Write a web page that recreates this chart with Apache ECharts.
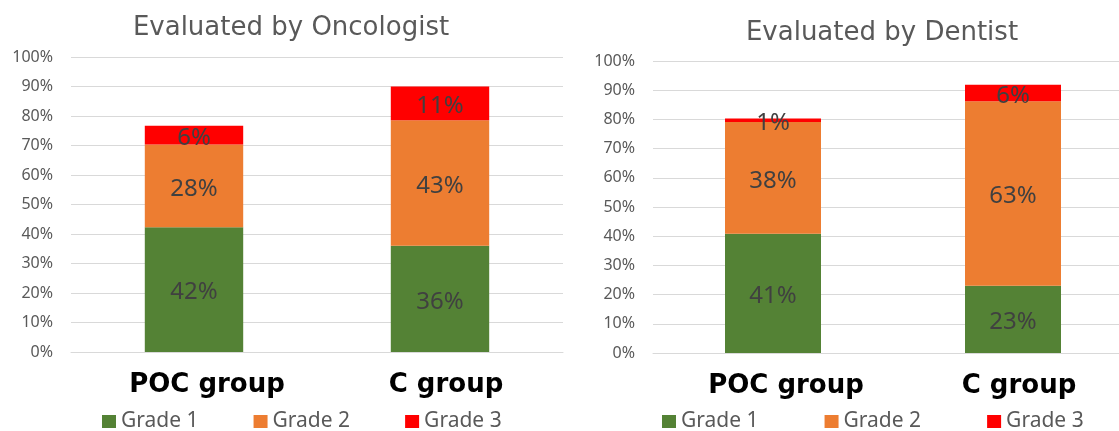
<!DOCTYPE html>
<html>
<head>
<meta charset="utf-8">
<script src="https://cdn.jsdelivr.net/npm/echarts@6/dist/echarts.min.js"></script>
<style>
html,body{margin:0;padding:0;background:#fff;}
#c{width:1119px;height:431px;}
</style>
</head>
<body>
<div id="c"></div>
<script>
var categories = ['POC group', 'C group'];
var gradeNames = ['Grade 1', 'Grade 2', 'Grade 3'];
var titles = ['Evaluated by Oncologist', 'Evaluated by Dentist'];

// Oncologist (left)
var oncoGrade1 = [42.3, 36.0];
var oncoGrade2 = [28.0, 42.6];
var oncoGrade3 = [6.4, 11.4];
// Dentist (right)
var dentGrade1 = [40.8, 23.0];
var dentGrade2 = [38.3, 63.2];
var dentGrade3 = [1.2, 5.7];

var colors = ['#548235', '#ED7D31', '#FF0000'];

var chart = echarts.init(document.getElementById('c'), null, {renderer: 'canvas'});

function yAxis(idx) {
  return {
    type: 'value', gridIndex: idx, min: 0, max: 100, interval: 10,
    axisLine: {show: false}, axisTick: {show: false},
    splitLine: {lineStyle: {color: '#d9d9d9', width: 1}},
    axisLabel: {formatter: '{value}%', color: '#595959', fontFamily: 'Noto Sans', fontSize: 16, margin: 18}
  };
}
function xAxis(idx) {
  return {
    type: 'category', gridIndex: idx, data: categories,
    axisLine: {show: true, lineStyle: {color: '#d9d9d9'}}, axisTick: {show: false},
    axisLabel: {
      interval: 0, hideOverlap: false,
      color: '#000', fontFamily: 'DejaVu Sans', fontWeight: 'bold', fontSize: 26, margin: 20,
      formatter: function (v, i) { return i === 0 ? '{p|' + v + '}' : '{q|' + v + '}'; },
      rich: {
        p: {color: '#000', fontFamily: 'DejaVu Sans', fontWeight: 'bold', fontSize: 26, padding: [0, 0, 0, 26]},
        q: {color: '#000', fontFamily: 'DejaVu Sans', fontWeight: 'bold', fontSize: 26, padding: [0, 0, 0, 12]}
      }
    }
  };
}
function series(name, data, idx, stack, color) {
  return {
    name: name, type: 'bar', stack: stack, xAxisIndex: idx, yAxisIndex: idx,
    data: data, barWidth: '40%',
    itemStyle: {color: color},
    label: {show: true, position: 'inside', offset: [0, 3], color: '#404040', fontFamily: 'Noto Sans', fontSize: 24,
      formatter: function (p) { return Math.round(p.value) + '%'; }}
  };
}

var legendCommon = {
  data: gradeNames, icon: 'rect', itemWidth: 14, itemHeight: 13,
  textStyle: {color: '#595959', fontFamily: 'Noto Sans', fontSize: 21},
  selectedMode: false
};

chart.setOption({
  animation: false,
  color: colors,
  title: [
    {text: titles[0], left: 286, top: 23, textAlign: 'center', textVerticalAlign: 'middle',
     textStyle: {color: '#595959', fontFamily: 'DejaVu Sans', fontWeight: 'normal', fontSize: 26}},
    {text: titles[1], left: 877, top: 28, textAlign: 'center', textVerticalAlign: 'middle',
     textStyle: {color: '#595959', fontFamily: 'DejaVu Sans', fontWeight: 'normal', fontSize: 26}}
  ],
  legend: [
    Object.assign({left: 97, top: 406, itemGap: 55}, legendCommon),
    Object.assign({left: 657, top: 406, itemGap: 66}, legendCommon)
  ],
  grid: [
    {left: 71, width: 492, top: 57, bottom: 79, outerBoundsMode: 'none', containLabel: false},
    {left: 653, width: 480, top: 61, bottom: 78, outerBoundsMode: 'none', containLabel: false}
  ],
  xAxis: [xAxis(0), xAxis(1)],
  yAxis: [yAxis(0), yAxis(1)],
  series: [
    series(gradeNames[0], oncoGrade1, 0, 'onco', colors[0]),
    series(gradeNames[1], oncoGrade2, 0, 'onco', colors[1]),
    series(gradeNames[2], oncoGrade3, 0, 'onco', colors[2]),
    series(gradeNames[0], dentGrade1, 1, 'dent', colors[0]),
    series(gradeNames[1], dentGrade2, 1, 'dent', colors[1]),
    series(gradeNames[2], dentGrade3, 1, 'dent', colors[2])
  ]
});
</script>
</body>
</html>
